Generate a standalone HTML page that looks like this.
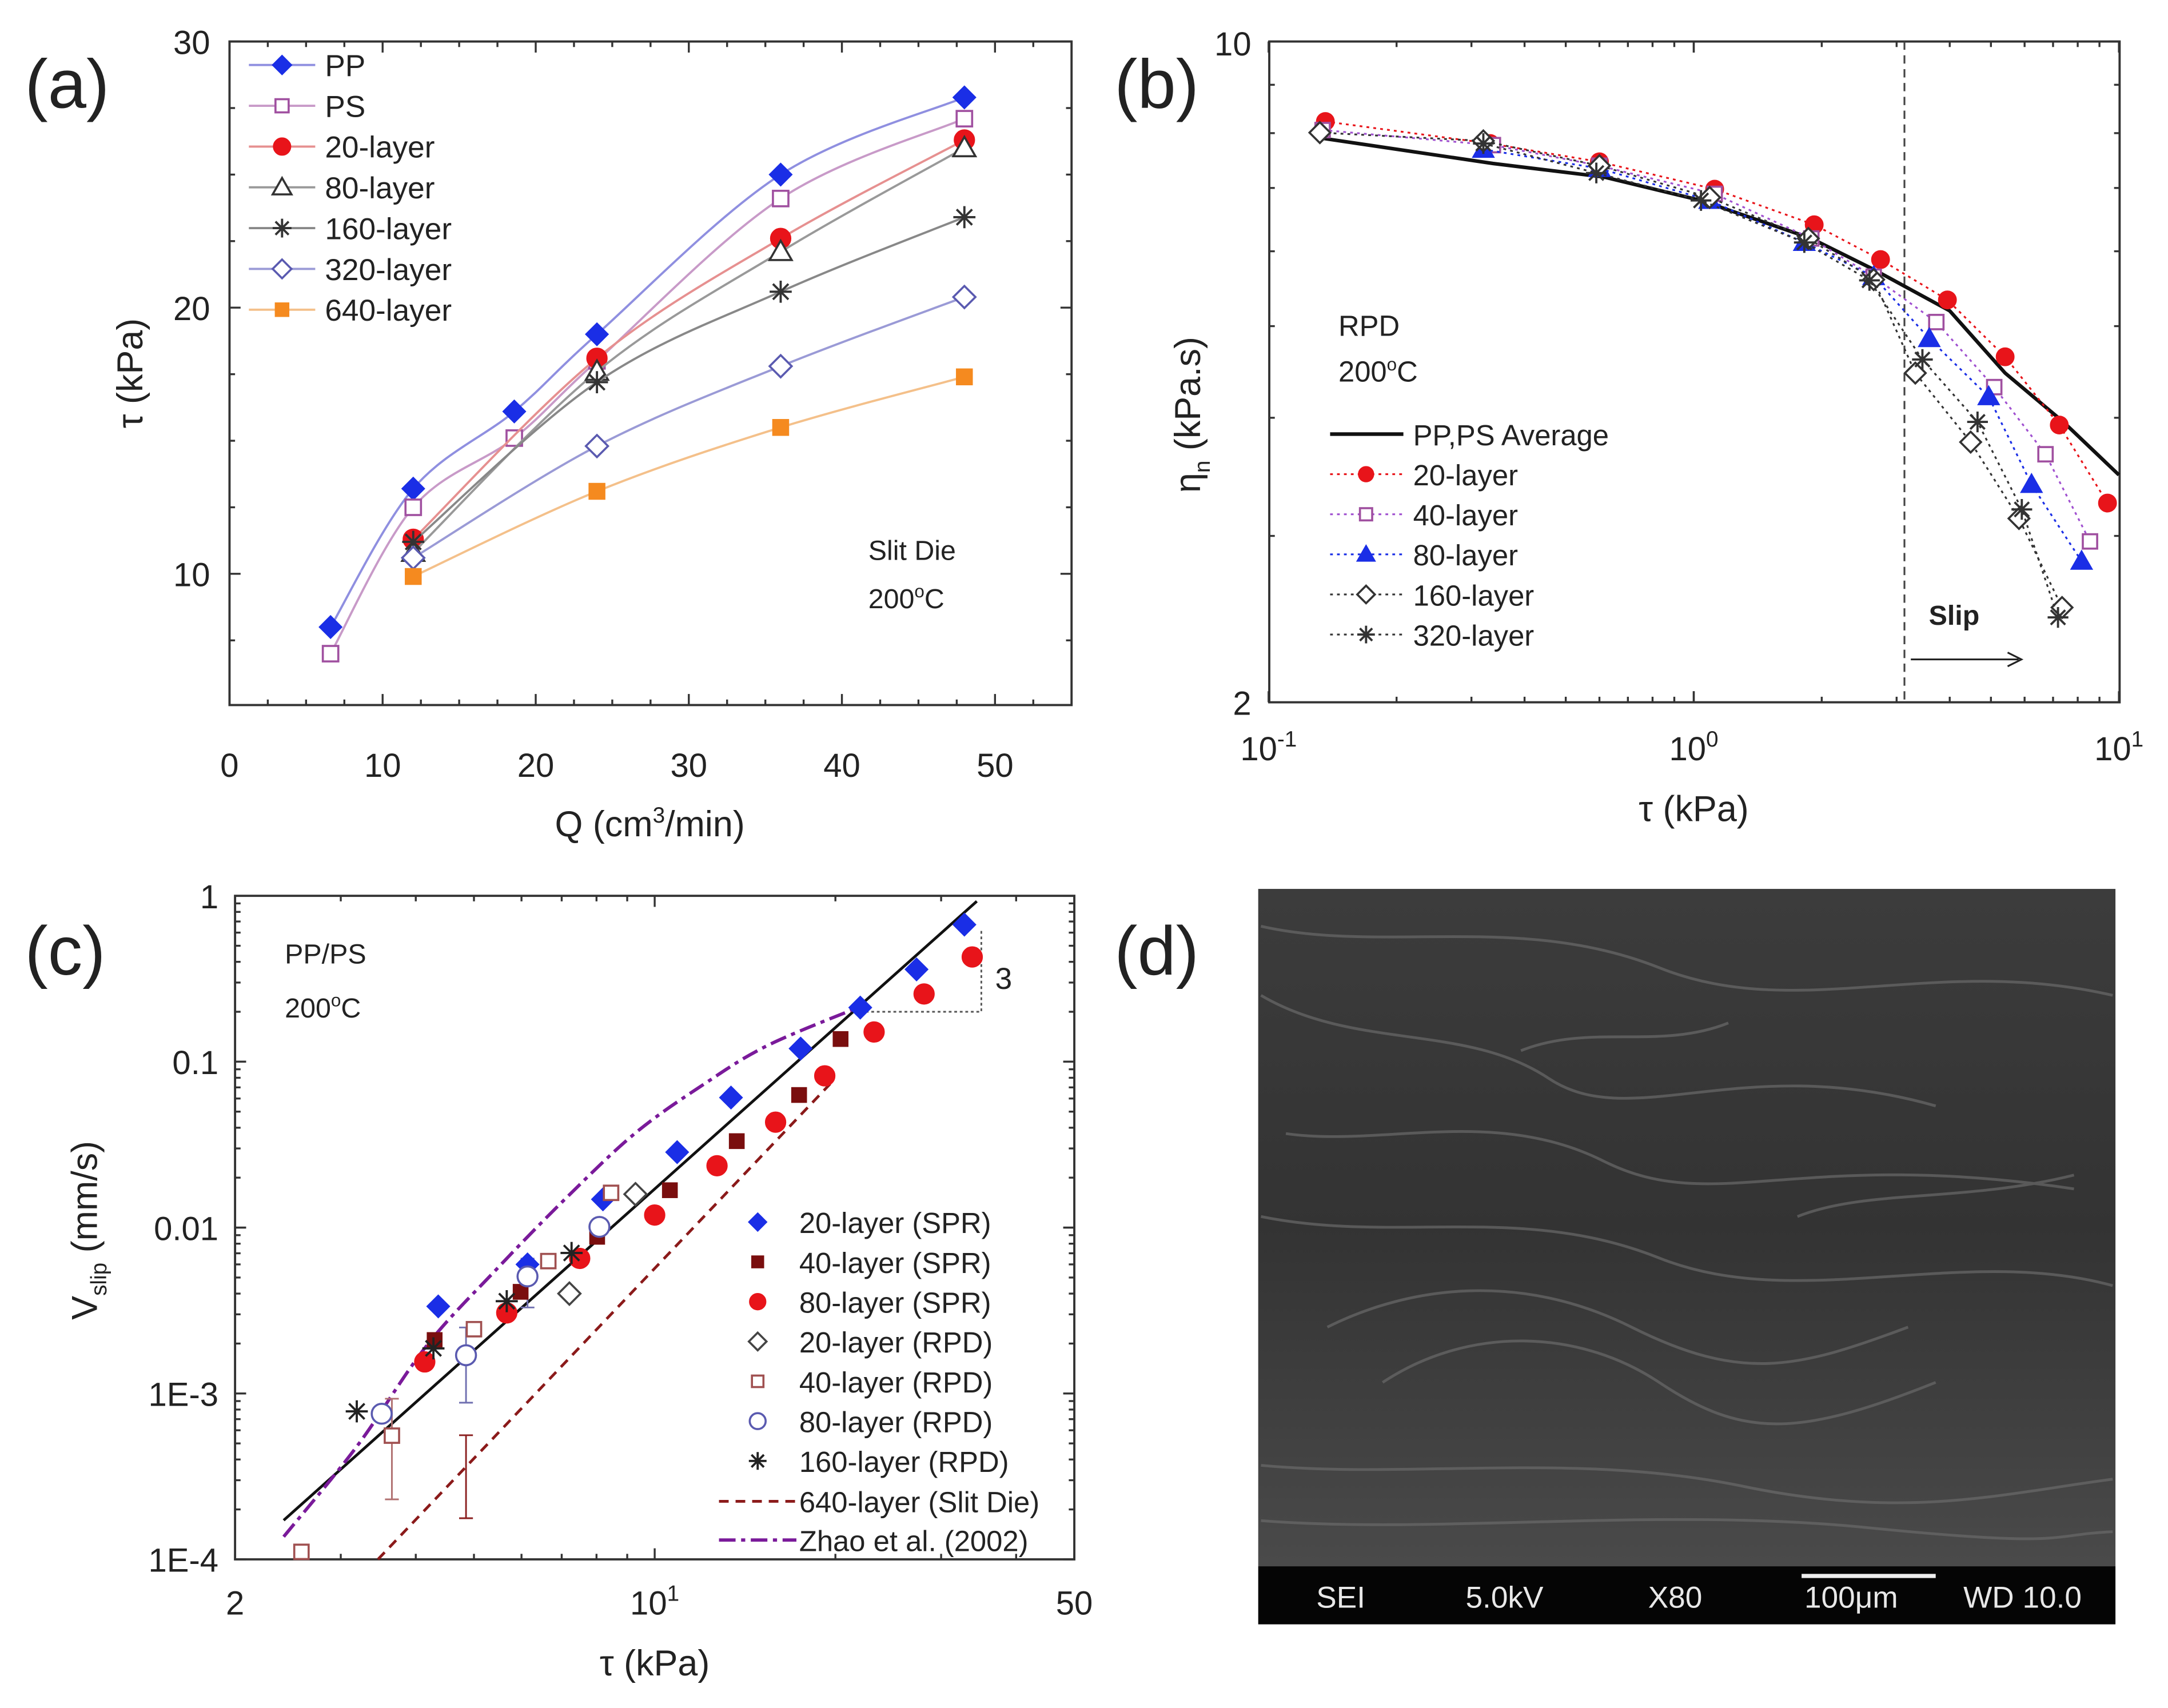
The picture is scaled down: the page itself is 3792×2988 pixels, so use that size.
<!DOCTYPE html>
<html><head><meta charset="utf-8"><style>
html,body{margin:0;padding:0;background:#fff;}
svg{display:block;font-family:"Liberation Sans",sans-serif;}
</style></head><body>
<svg id="fig" width="3792" height="2988" viewBox="0 0 1568 1235.5" xmlns="http://www.w3.org/2000/svg"></svg>
<script>
// ---------- Panel (a) data ----------
const aNames=["PP","PS","20-layer","80-layer","160-layer","320-layer","640-layer"];
const aQ6=[6.6,12,18.6,24,36,48];
const aQ4=[12,24,36,48];
const aPP=[8,13.2,16.1,19,25,27.9];
const aPS=[7,12.5,15.1,18,24.1,27.1];
const a20=[11.3,18.1,22.6,26.3];
const a80=[10.8,17.6,22.1,26];
const a160=[11.2,17.2,20.6,23.4];
const a320=[10.6,14.8,17.8,20.4];
const a640=[9.9,13.1,15.5,17.4];
// ---------- Panel (b) data ----------
const bAvgT=[0.134,0.337,0.614,1.04,1.89,2.65,4.0,5.4,7.4,10];
const bAvgE=[7.90,7.43,7.19,6.79,6.19,5.74,5.19,4.46,3.96,3.48];
const b20T=[0.136,0.332,0.60,1.12,1.92,2.75,3.95,5.4,7.24,9.4];
const b20E=[8.23,7.80,7.46,6.98,6.40,5.88,5.33,4.64,3.93,3.25];
const b40T=[0.134,0.337,0.60,1.12,1.89,2.65,3.72,5.09,6.72,8.55];
const b40E=[8.06,7.77,7.39,6.90,6.19,5.64,5.05,4.31,3.66,2.96];
const b80T=[0.32,0.60,1.09,1.82,2.65,3.58,4.94,6.23,8.17];
const b80E=[7.69,7.34,6.79,6.13,5.64,4.85,4.21,3.40,2.82];
const b160T=[0.132,0.32,0.60,1.09,1.86,2.65,3.32,4.48,5.82,7.35];
const b160E=[8.01,7.85,7.39,6.84,6.19,5.60,4.46,3.77,3.13,2.52];
const b320T=[0.32,0.59,1.04,1.82,2.59,3.45,4.65,5.91,7.19];
const b320E=[7.80,7.26,6.79,6.13,5.59,4.61,3.96,3.20,2.46];
// ---------- Panel (c) data ----------
const c20sT=[4.36,6.14,8.2,10.9,13.4,17.5,22.0,27.3,32.8];
const c20sV=[0.00335,0.0060,0.0148,0.0285,0.0608,0.120,0.212,0.360,0.670];
const c40sT=[4.30,5.98,8.02,10.6,13.7,17.4,20.4];
const c40sV=[0.0021,0.0041,0.0088,0.0168,0.0332,0.063,0.137];
const c80sT=[4.14,5.67,7.5,10.0,12.7,15.9,19.2,23.2,28.1,33.8];
const c80sV=[0.00155,0.00306,0.00652,0.0119,0.0236,0.0432,0.0822,0.151,0.256,0.428];
const c20rT=[7.21,9.29];
const c20rV=[0.0040,0.0159];
const c40rT=[2.58,3.65,5.0,6.65,8.46];
const c40rV=[0.000111,0.000557,0.00244,0.00628,0.0162];
const c80rT=[3.51,4.85,6.14,8.09];
const c80rV=[0.000755,0.00170,0.00508,0.0101];
const c160rT=[3.19,4.28,5.67,7.27];
const c160rV=[0.00078,0.00187,0.0036,0.00703];
const cFitT=[2.41,34.4];
const cFitV=[0.000172,0.927];
const c640T=[3.46,19.6];
const c640V=[0.0001,0.0735];
const cZhaoT=[2.41,3.19,4.17,5.45,7.11,9.29,12.1,15.4,21.8];
const cZhaoV=[0.000137,0.000479,0.00194,0.0056,0.0150,0.0372,0.0735,0.125,0.212];

const NS="http://www.w3.org/2000/svg";
const svg=document.getElementById('fig');
function el(tag,attrs,parent){const e=document.createElementNS(NS,tag);for(const k in attrs)e.setAttribute(k,attrs[k]);(parent||svg).appendChild(e);return e;}
function txt(x,y,s,size,anchor,parent,extra){const t=el('text',Object.assign({x:x,y:y,'font-size':size,'text-anchor':anchor||'start',fill:'#222'},extra||{}),parent);t.textContent=s;return t;}
function marker(g,type,x,y,s,col){
  let e;
  if(type==='dia'){e=el('polygon',{points:`${x},${y-s} ${x+s},${y} ${x},${y+s} ${x-s},${y}`},g);}
  else if(type==='sq'){e=el('rect',{x:x-s*0.8,y:y-s*0.8,width:s*1.6,height:s*1.6},g);}
  else if(type==='cir'){e=el('circle',{cx:x,cy:y,r:s*0.9},g);}
  else if(type==='tri'){e=el('polygon',{points:`${x},${y-s} ${x+s},${y+s*0.75} ${x-s},${y+s*0.75}`},g);}
  else if(type==='star'){e=el('path',{d:`M${x-s},${y}H${x+s}M${x},${y-s}V${y+s}M${x-s*0.7},${y-s*0.7}L${x+s*0.7},${y+s*0.7}M${x-s*0.7},${y+s*0.7}L${x+s*0.7},${y-s*0.7}`},g);}
  return e;
}
function styleM(e,type,col,filled){
  if(type==='star'){e.setAttribute('stroke',col);e.setAttribute('stroke-width',1.6);e.setAttribute('fill','none');}
  else if(filled){e.setAttribute('fill',col);e.setAttribute('stroke',col);e.setAttribute('stroke-width',1);}
  else {e.setAttribute('fill','#fff');e.setAttribute('stroke',col);e.setAttribute('stroke-width',1.5);}
}
function spline(pts){
  let d=`M${pts[0][0]},${pts[0][1]}`;
  for(let i=0;i<pts.length-1;i++){
    const p0=pts[Math.max(0,i-1)],p1=pts[i],p2=pts[i+1],p3=pts[Math.min(pts.length-1,i+2)];
    const c1=[p1[0]+(p2[0]-p0[0])/6,p1[1]+(p2[1]-p0[1])/6];
    const c2=[p2[0]-(p3[0]-p1[0])/6,p2[1]-(p3[1]-p1[1])/6];
    d+=` C${c1[0]},${c1[1]} ${c2[0]},${c2[1]} ${p2[0]},${p2[1]}`;
  }
  return d;
}

// ================= Panel (a) =================
const A={l:166,r:775,t:30,b:510,xmin:0,xmax:55,ymin:5.07,ymax:30};
const ax=v=>A.l+(v-A.xmin)/(A.xmax-A.xmin)*(A.r-A.l);
const ay=v=>A.b-(v-A.ymin)/(A.ymax-A.ymin)*(A.b-A.t);
const gA=el('g',{});


let t=txt(18,78,'(a)',50,'start',gA);
let fr=el('rect',{x:A.l,y:A.t,width:A.r-A.l,height:A.b-A.t,fill:'none',stroke:'#333','stroke-width':1.6},gA);

for(let v=0;v<=55;v+=2.5){const x=ax(v);const L=(v%10===0)?8:4;el('line',{x1:x,y1:A.b,x2:x,y2:A.b-L,stroke:'#333','stroke-width':1.4},gA);el('line',{x1:x,y1:A.t,x2:x,y2:A.t+L,stroke:'#333','stroke-width':1.4},gA);}
for(let v=0;v<=50;v+=10){const tl=txt(ax(v),562,String(v),24,'middle',gA);}
for(let v=7.5;v<=30;v+=2.5){const y=ay(v);const L=(v%10===0)?8:4;el('line',{x1:A.l,y1:y,x2:A.l+L,y2:y,stroke:'#333','stroke-width':1.4},gA);el('line',{x1:A.r,y1:y,x2:A.r-L,y2:y,stroke:'#333','stroke-width':1.4},gA);}
for(const v of [10,20,30]){const tl=txt(152,ay(v)+9,String(v),24,'end',gA);}
t=txt(470,605,'Q (cm',26,'middle',gA);
t.innerHTML='Q (cm<tspan dy="-10" font-size="16">3</tspan><tspan dy="10">/min)</tspan>';
t=txt(0,0,'τ (kPa)',26,'middle',gA,{transform:'translate(103,270) rotate(-90)'});
t=txt(628,405,'Slit Die',20,'start',gA);
t=txt(628,440,'200',20,'start',gA);t.innerHTML='200<tspan dy="-8" font-size="13">o</tspan><tspan dy="8">C</tspan>';
const aSeries=[
 {n:'PP',x:aQ6,y:aPP,m:'dia',c:'#1a2ee6',lc:'#8f8fe0',f:true,s:8},
 {n:'PS',x:aQ6,y:aPS,m:'sq',c:'#a050a0',lc:'#c89ac8',f:false,s:7},
 {n:'20-layer',x:aQ4,y:a20,m:'cir',c:'#e8141a',lc:'#e69090',f:true,s:8},
 {n:'80-layer',x:aQ4,y:a80,m:'tri',c:'#333',lc:'#999',f:false,s:8},
 {n:'160-layer',x:aQ4,y:a160,m:'star',c:'#333',lc:'#888',f:false,s:8},
 {n:'320-layer',x:aQ4,y:a320,m:'dia',c:'#5a5ab0',lc:'#9a9ad6',f:false,s:8},
 {n:'640-layer',x:aQ4,y:a640,m:'sq',c:'#f58a1f',lc:'#f4c08a',f:true,s:7}];
aSeries.forEach((S,i)=>{
  const g=el('g',{},gA);
  
  
  const pts=S.x.map((v,j)=>[ax(v),ay(S.y[j])]);
  el('path',{d:spline(pts),fill:'none',stroke:S.lc,'stroke-width':1.6},g);
  pts.forEach(p=>{const m=marker(g,S.m,p[0],p[1],S.s,S.c);styleM(m,S.m,S.c,S.f);});
  const ly=47+i*29.5;
  const lg=el('g',{},gA);
  
  
  el('line',{x1:180,y1:ly,x2:228,y2:ly,stroke:S.lc,'stroke-width':1.6},lg);
  const lm=marker(lg,S.m,204,ly,S.s*0.85,S.c);styleM(lm,S.m,S.c,S.f);
  txt(235,ly+8,S.n,22,'start',lg);
});

// ================= Panel (b) =================
const B={l:918,r:1533,t:30,b:508};
const bx=v=>1225+Math.log10(v)*307.5;
const by=v=>B.t+(1-Math.log10(v))*684;
const gB=el('g',{});


t=txt(806,78,'(b)',50,'start',gB);
fr=el('rect',{x:B.l,y:B.t,width:B.r-B.l,height:B.b-B.t,fill:'none',stroke:'#333','stroke-width':1.6},gB);

for(let d=-1;d<=0;d++)for(let k=1;k<=10;k++){const x=bx(k*Math.pow(10,d));if(x<B.l-1||x>B.r+1)continue;const L=(k===1||k===10)?8:4;el('line',{x1:x,y1:B.b,x2:x,y2:B.b-L,stroke:'#333','stroke-width':1.4},gB);el('line',{x1:x,y1:B.t,x2:x,y2:B.t+L,stroke:'#333','stroke-width':1.4},gB);}
for(let k=2;k<=10;k++){const y=by(k);const L=(k===10||k===2)?8:4;el('line',{x1:B.l,y1:y,x2:B.l+L,y2:y,stroke:'#333','stroke-width':1.4},gB);el('line',{x1:B.r,y1:y,x2:B.r-L,y2:y,stroke:'#333','stroke-width':1.4},gB);}
[[-1,'-1'],[0,'0'],[1,'1']].forEach(([d,s])=>{const x=bx(Math.pow(10,d));const tl=txt(x,550,'',24,'middle',gB);tl.innerHTML='10<tspan dy="-10" font-size="16">'+s+'</tspan>';});
t=txt(905,40,'10',24,'end',gB);
t=txt(905,517,'2',24,'end',gB);
t=txt(1225,594,'τ (kPa)',26,'middle',gB);
t=txt(0,0,'',26,'middle',gB,{transform:'translate(868,300) rotate(-90)'});t.innerHTML='η<tspan dy="7" font-size="16">n</tspan><tspan dy="-7"> (kPa.s)</tspan>';
let vl=el('line',{x1:bx(3.13),y1:B.t,x2:bx(3.13),y2:B.b,stroke:'#444','stroke-width':1.3,'stroke-dasharray':'6,4'},gB);

t=txt(1395,452,'Slip',20,'start',gB,{'font-weight':'bold'});
let ar=el('path',{d:'M1382,477H1460M1452,472L1462,477L1452,482',fill:'none',stroke:'#222','stroke-width':1.3},gB);

t=txt(968,243,'RPD',21,'start',gB);
t=txt(968,276,'',21,'start',gB);t.innerHTML='200<tspan dy="-8" font-size="13">o</tspan><tspan dy="8">C</tspan>';
let avg=el('path',{d:'M'+bAvgT.map((v,j)=>bx(v)+','+by(bAvgE[j])).join('L'),fill:'none',stroke:'#111','stroke-width':2.6},gB);

const bSeries=[
 {n:'20-layer',x:b20T,y:b20E,m:'cir',c:'#e8141a',lc:'#e8141a',f:true,s:7},
 {n:'40-layer',x:b40T,y:b40E,m:'sq',c:'#a050a0',lc:'#a050d0',f:false,s:6.5},
 {n:'80-layer',x:b80T,y:b80E,m:'tri',c:'#1a2ee6',lc:'#1a2ee6',f:true,s:7.5},
 {n:'160-layer',x:b160T,y:b160E,m:'dia',c:'#333',lc:'#333',f:false,s:7.5},
 {n:'320-layer',x:b320T,y:b320E,m:'star',c:'#333',lc:'#333',f:false,s:7.5}];
bSeries.forEach(S=>{
  const g=el('g',{},gB);
  
  
  el('path',{d:'M'+S.x.map((v,j)=>bx(v)+','+by(S.y[j])).join('L'),fill:'none',stroke:S.lc,'stroke-width':1.3,'stroke-dasharray':'2,3'},g);
  S.x.forEach((v,j)=>{const m=marker(g,S.m,bx(v),by(S.y[j]),S.s,S.c);styleM(m,S.m,S.c,S.f);});
});
{const lg=el('g',{},gB);


el('line',{x1:962,y1:314,x2:1015,y2:314,stroke:'#111','stroke-width':2.6},lg);txt(1022,322,'PP,PS Average',21,'start',lg);}
bSeries.forEach((S,i)=>{const ly=343+i*29;const lg=el('g',{},gB);


el('line',{x1:962,y1:ly,x2:1015,y2:ly,stroke:S.lc,'stroke-width':1.3,'stroke-dasharray':'2,3'},lg);
const m=marker(lg,S.m,988,ly,S.s*0.85,S.c);styleM(m,S.m,S.c,S.f);txt(1022,ly+8,S.n,21,'start',lg);});

// ================= Panel (c) =================
const C={l:170,r:777,t:648,b:1128};
const cx=v=>C.l+(Math.log10(v)-Math.log10(2))/Math.log10(25)*(C.r-C.l);
const cy=v=>C.t-Math.log10(v)*120;
const gC=el('g',{});


t=txt(18,705,'(c)',50,'start',gC);
fr=el('rect',{x:C.l,y:C.t,width:C.r-C.l,height:C.b-C.t,fill:'none',stroke:'#333','stroke-width':1.6},gC);

for(const v of [2,3,4,5,6,7,8,9,10,20,30,40,50]){const x=cx(v);const L=(v===10)?8:4;el('line',{x1:x,y1:C.b,x2:x,y2:C.b-L,stroke:'#333','stroke-width':1.4},gC);el('line',{x1:x,y1:C.t,x2:x,y2:C.t+L,stroke:'#333','stroke-width':1.4},gC);}
for(let d=-4;d<0;d++)for(let k=1;k<=10;k++){const y=cy(k*Math.pow(10,d));const L=(k===1||k===10)?8:4;el('line',{x1:C.l,y1:y,x2:C.l+L,y2:y,stroke:'#333','stroke-width':1.4},gC);el('line',{x1:C.r,y1:y,x2:C.r-L,y2:y,stroke:'#333','stroke-width':1.4},gC);}
[['1',1],['0.1',0.1],['0.01',0.01],['1E-3',0.001],['1E-4',0.0001]].forEach(([s,v])=>{const tl=txt(158,cy(v)+9,s,24,'end',gC);});
t=txt(cx(2),1168,'2',24,'middle',gC);
t=txt(cx(10),1168,'',24,'middle',gC);t.innerHTML='10<tspan dy="-10" font-size="16">1</tspan>';
t=txt(cx(50),1168,'50',24,'middle',gC);
t=txt(cx(10),1212,'τ (kPa)',26,'middle',gC);
t=txt(0,0,'',26,'middle',gC,{transform:'translate(70,890) rotate(-90)'});t.innerHTML='V<tspan dy="7" font-size="16">slip</tspan><tspan dy="-7"> (mm/s)</tspan>';
t=txt(206,697,'PP/PS',20,'start',gC);
t=txt(206,736,'',20,'start',gC);t.innerHTML='200<tspan dy="-8" font-size="13">o</tspan><tspan dy="8">C</tspan>';
let ln=el('line',{x1:cx(cFitT[0]),y1:cy(cFitV[0]),x2:cx(cFitT[1]),y2:cy(cFitV[1]),stroke:'#111','stroke-width':2},gC);

ln=el('line',{x1:cx(c640T[0]),y1:cy(c640V[0]),x2:cx(c640T[1]),y2:cy(c640V[1]),stroke:'#8b1a1a','stroke-width':2,'stroke-dasharray':'7,5'},gC);

ln=el('path',{d:spline(cZhaoT.map((v,j)=>[cx(v),cy(cZhaoV[j])])),fill:'none',stroke:'#7a1a9a','stroke-width':2.4,'stroke-dasharray':'12,4,3,4'},gC);

let sl=el('path',{d:`M${cx(22)},${cy(0.2)}H${cx(35)}V${cy(0.62)}`,fill:'none',stroke:'#555','stroke-width':1.2,'stroke-dasharray':'2,2'},gC);

t=txt(cx(35)+10,cy(0.32)+8,'3',22,'start',gC);
const eb=el('g',{stroke:'#a06060','stroke-width':1.2,fill:'none'},gC);

function vbar(T,lo,hi,col){el('path',{d:`M${cx(T)},${cy(lo)}V${cy(hi)}M${cx(T)-5},${cy(lo)}h10M${cx(T)-5},${cy(hi)}h10`,stroke:col},eb);}
vbar(c40rT[1],0.00023,0.00093,'#b07070');
vbar(4.85,0.000177,0.00056,'#8b2020');
vbar(c80rT[1],0.00088,0.0025,'#7070b0');
vbar(c80rT[2],0.0033,0.0065,'#7070b0');
const cSeries=[
 {n:'20-layer (SPR)',x:c20sT,y:c20sV,m:'dia',c:'#1a2ee6',f:true,s:8},
 {n:'40-layer (SPR)',x:c40sT,y:c40sV,m:'sq',c:'#7a0e0e',f:true,s:6.5},
 {n:'80-layer (SPR)',x:c80sT,y:c80sV,m:'cir',c:'#e8141a',f:true,s:8},
 {n:'20-layer (RPD)',x:c20rT,y:c20rV,m:'dia',c:'#444',f:false,s:8},
 {n:'40-layer (RPD)',x:c40rT,y:c40rV,m:'sq',c:'#a05050',f:false,s:6.5},
 {n:'80-layer (RPD)',x:c80rT,y:c80rV,m:'cir',c:'#5a5ab0',f:false,s:8},
 {n:'160-layer (RPD)',x:c160rT,y:c160rV,m:'star',c:'#222',f:false,s:8}];
cSeries.forEach((S,i)=>{
  const g=el('g',{},gC);
  
  
  S.x.forEach((v,j)=>{const m=marker(g,S.m,cx(v),cy(S.y[j]),S.s,S.c);styleM(m,S.m,S.c,S.f);});
  const ly=884+i*28.8;
  const lg=el('g',{},gC);
  
  
  const m=marker(lg,S.m,548,ly,S.s*0.8,S.c);styleM(m,S.m,S.c,S.f);
  txt(578,ly+8,S.n,21,'start',lg);
});
{const lg=el('g',{},gC);


el('line',{x1:520,y1:1086,x2:576,y2:1086,stroke:'#8b1a1a','stroke-width':2,'stroke-dasharray':'7,5'},lg);txt(578,1094,'640-layer (Slit Die)',21,'start',lg);
el('line',{x1:520,y1:1114,x2:576,y2:1114,stroke:'#7a1a9a','stroke-width':2.4,'stroke-dasharray':'12,4,3,4'},lg);txt(578,1122,'Zhao et al. (2002)',21,'start',lg);}

// ================= Panel (d) =================
const gD=el('g',{});


t=txt(806,705,'(d)',50,'start',gD);
const defs=el('defs',{},gD);
const lgr=el('linearGradient',{id:'semg',x1:0,y1:0,x2:0,y2:1},defs);
el('stop',{offset:'0','stop-color':'#3c3c3c'},lgr);el('stop',{offset:'0.5','stop-color':'#333'},lgr);el('stop',{offset:'1','stop-color':'#4a4a4a'},lgr);
const img=el('rect',{x:910,y:643,width:620,height:490,fill:'url(#semg)'},gD);

const tex=el('g',{fill:'none',stroke:'#6a6a6a','stroke-width':2,opacity:0.7},gD);

const strokes=['M912,670C1000,690 1100,660 1200,700S1400,690 1528,720','M912,720C980,760 1060,740 1120,780S1260,760 1400,800','M930,820C1000,830 1080,800 1160,840S1300,830 1500,860','M912,880C1010,900 1100,870 1200,910S1420,900 1528,930','M960,960C1020,930 1100,920 1180,960S1300,990 1380,960','M1000,1000C1060,960 1140,960 1200,1000S1300,1040 1400,1000','M912,1060C1020,1070 1140,1050 1260,1075S1450,1080 1528,1070','M912,1100C1040,1110 1200,1090 1350,1105S1480,1110 1528,1108','M1100,760C1150,740 1200,760 1250,740','M1300,880C1350,860 1420,870 1500,850'];
strokes.forEach(d=>el('path',{d:d},tex));
const bar=el('rect',{x:910,y:1133,width:620,height:42,fill:'#050505'},gD);

[['SEI',952],['5.0kV',1060],['X80',1192],['100μm',1305],['WD 10.0',1420]].forEach(([s,x])=>{const tl=txt(x,1163,s,22,'start',gD,{fill:'#e8e8e8'});});
const sb=el('line',{x1:1303,y1:1140,x2:1400,y2:1140,stroke:'#eee','stroke-width':3},gD);

</script>
</body></html>
